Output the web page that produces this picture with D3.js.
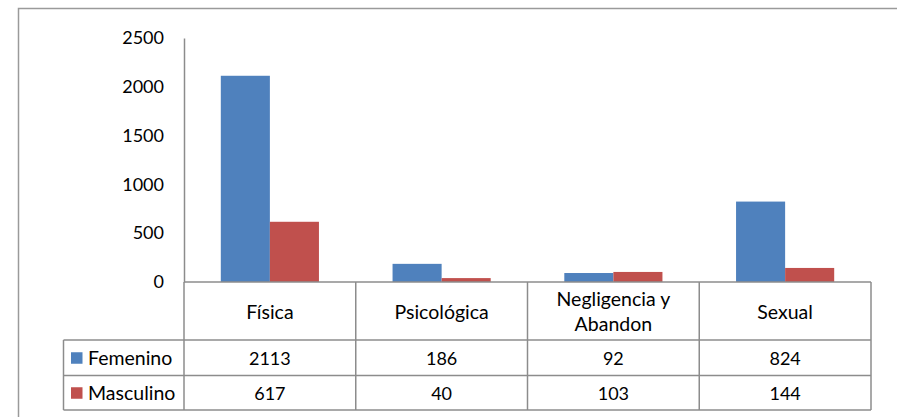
<!DOCTYPE html>
<html>
<head>
<meta charset="utf-8">
<script src="https://cdn.jsdelivr.net/npm/d3@7"></script>
<style>
  html, body { margin: 0; padding: 0; background: #fff; }
  svg { display: block; }
  text { font-family: Lato, "Open Sans", sans-serif; fill: #000; }
</style>
</head>
<body>
<svg id="chart" width="897" height="417"></svg>
<script>
const categories = ["Física", "Psicológica", "Negligencia y\nAbandon", "Sexual"];
const seriesNames = ["Femenino", "Masculino"];
const femenino = [2113, 186, 92, 824];
const masculino = [617, 40, 103, 144];
const yTicks = [0, 500, 1000, 1500, 2000, 2500];
const colors = ["#4F81BD", "#C0504D"];

const seriesValues = [femenino, masculino];
const svg = d3.select("#chart");

// outer frame
svg.append("rect")
  .attr("x", 18.5).attr("y", 8.5)
  .attr("width", 1000).attr("height", 1000)
  .attr("fill", "none").attr("stroke", "#9a9a9a").attr("stroke-width", 1.5);

const plotLeft = 184, plotRight = 871, plotTop = 38, plotBottom = 282;
const rowBottoms = [340, 375.5, 410];
const legendLeft = 63.5;
const wordSize = "19.5px", numSize = "18px";

const x0 = d3.scaleBand().domain(categories).range([plotLeft, plotRight]).padding(0);
const x1 = d3.scaleBand().domain(seriesNames).range([0, x0.bandwidth()])
  .paddingInner(0).paddingOuter(0.75);
const y = d3.scaleLinear().domain([0, 2500]).range([plotBottom, plotTop]);

// y axis labels
const yAxis = d3.axisLeft(y).tickValues(yTicks).tickSize(0).tickPadding(20).tickFormat(d3.format("d"));
const gy = svg.append("g").attr("transform", `translate(${plotLeft},0)`).call(yAxis);
gy.select(".domain").attr("stroke", "#8c8c8c").attr("stroke-width", 1.5);
gy.selectAll("text").style("font-family", "Lato, 'Open Sans', sans-serif")
  .style("font-size", numSize).attr("fill", "#000");

// bars
seriesNames.forEach((s, si) => {
  svg.append("g").selectAll("rect")
    .data(categories)
    .join("rect")
    .attr("x", (c) => x0(c) + x1(s))
    .attr("width", x1.bandwidth())
    .attr("y", (c, i) => y(seriesValues[si][i]))
    .attr("height", (c, i) => y(0) - y(seriesValues[si][i]))
    .attr("fill", colors[si]);
});

// table lines
const lineColor = "#8c8c8c";
const g = svg.append("g").attr("stroke", lineColor).attr("stroke-width", 1.5).attr("fill", "none");
g.append("line").attr("x1", plotLeft).attr("x2", plotRight).attr("y1", plotBottom).attr("y2", plotBottom);
rowBottoms.forEach((yy) => {
  g.append("line").attr("x1", legendLeft).attr("x2", plotRight).attr("y1", yy).attr("y2", yy);
});
const boundaries = categories.map(c => x0(c)).concat([plotRight]);
boundaries.forEach(xx => {
  g.append("line").attr("x1", xx).attr("x2", xx).attr("y1", plotBottom).attr("y2", rowBottoms[2]);
});
g.append("line").attr("x1", legendLeft).attr("x2", legendLeft).attr("y1", rowBottoms[0]).attr("y2", rowBottoms[2]);

// category labels
const catTop = plotBottom, catBottom = rowBottoms[0];
categories.forEach(c => {
  const lines = c.split("\n");
  const cx = x0(c) + x0.bandwidth() / 2;
  const cy = (catTop + catBottom) / 2;
  const lh = 25;
  lines.forEach((ln, li) => {
    svg.append("text")
      .attr("x", cx)
      .attr("y", cy + (li - (lines.length - 1) / 2) * lh)
      .attr("text-anchor", "middle")
      .attr("dominant-baseline", "central")
      .style("font-size", wordSize)
      .text(ln);
  });
});

// data rows
seriesNames.forEach((s, si) => {
  const top = rowBottoms[si], bottom = rowBottoms[si + 1];
  const cy = (top + bottom) / 2;
  svg.append("rect")
    .attr("x", 71).attr("y", cy - 5.5).attr("width", 11.5).attr("height", 11.5)
    .attr("fill", colors[si]);
  svg.append("text")
    .attr("x", 88).attr("y", cy)
    .attr("dominant-baseline", "central")
    .style("font-size", wordSize)
    .text(s);
  categories.forEach((c, ci) => {
    svg.append("text")
      .attr("x", x0(c) + x0.bandwidth() / 2)
      .attr("y", cy)
      .attr("text-anchor", "middle")
      .attr("dominant-baseline", "central")
      .style("font-size", numSize)
      .text(seriesValues[si][ci]);
  });
});
</script>
</body>
</html>
